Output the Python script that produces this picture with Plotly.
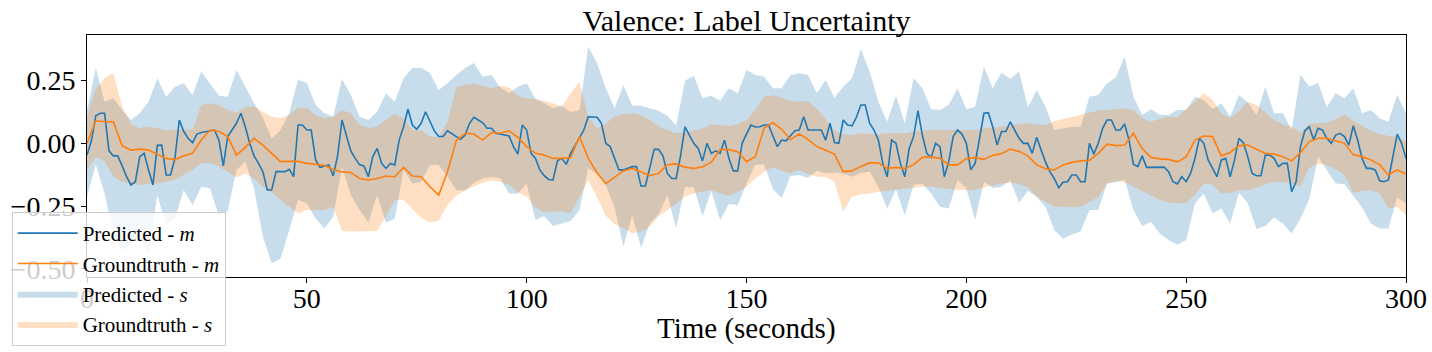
import plotly.graph_objects as go

# time grids (seconds)
time_1s = list(range(0, 301))
time_2s = list(range(0, 301, 2))

# Predicted mean (1 s resolution)
pred_m = [-0.047, 0.01, 0.11, 0.12, 0.12, -0.03, -0.05, -0.05, -0.09, -0.133,
          -0.166, -0.153, -0.053, -0.04, -0.106, -0.166, -0.008, -0.007, -0.126, -0.126,
          -0.06, 0.093, 0.047, 0.02, 0.003, 0.037, 0.043, 0.047, 0.052, 0.053,
          0.013, -0.09, 0.027, 0.053, 0.08, 0.12, 0.066, 0.0, -0.05, -0.08,
          -0.113, -0.186, -0.186, -0.113, -0.113, -0.113, -0.104, -0.133, 0.073, 0.073,
          0.053, 0.053, -0.066, -0.096, -0.09, -0.086, -0.13, -0.05, 0.093, 0.027,
          -0.03, -0.06, -0.086, -0.09, -0.133, -0.053, -0.02, -0.08, -0.1, -0.08,
          -0.086, 0.013, 0.066, 0.137, 0.073, 0.056, 0.08, 0.126, 0.086, 0.05,
          0.027, 0.027, 0.05, 0.04, 0.027, 0.016, 0.033, 0.08, 0.104, 0.093,
          0.082, 0.06, 0.06, 0.04, 0.035, 0.033, 0.029, -0.013, -0.043, 0.073,
          0.053, -0.04, -0.06, -0.106, -0.129, -0.144, -0.146, -0.07, -0.06, -0.084,
          -0.04, -0.01, 0.024, 0.053, 0.106, 0.104, 0.104, 0.08, 0.0, -0.013,
          -0.06, -0.106, -0.106, -0.1, -0.093, -0.093, -0.17, -0.17, -0.1, -0.024,
          -0.024, -0.05, -0.12, -0.14, -0.14, -0.05, 0.066, 0.03, 0.0, -0.02,
          -0.07, 0.0, -0.04, -0.03, -0.04, 0.013, -0.06, -0.11, -0.11, 0.0,
          0.04, 0.073, 0.065, 0.066, 0.073, 0.073, 0.03, -0.013, 0.013, 0.01,
          0.03, 0.05, 0.053, 0.106, 0.053, 0.053, 0.056, 0.053, 0.013, 0.08,
          0.003, 0.0, 0.093, 0.073, 0.07, 0.104, 0.153, 0.153, 0.08, 0.053,
          0.013, -0.08, -0.133, 0.013, 0.0, -0.08, -0.133, -0.02, 0.027, 0.13,
          0.033, -0.04, -0.057, 0.0, -0.013, -0.133, -0.073, 0.027, 0.053, 0.037,
          0.0, -0.106, -0.08, 0.024, 0.12, 0.122, 0.066, -0.007, 0.047, 0.047,
          0.086, 0.053, 0.02, 0.0, 0.0, -0.04, 0.024, -0.027, -0.075, -0.113,
          -0.14, -0.177, -0.155, -0.153, -0.126, -0.126, -0.153, -0.153, 0.0, -0.043,
          0.0, 0.06, 0.093, 0.093, 0.053, 0.053, 0.077, 0.013, -0.083, -0.093,
          -0.05, -0.096, -0.095, -0.095, -0.095, -0.095, -0.113, -0.153, -0.162, -0.133,
          -0.153, -0.12, -0.06, 0.02, 0.0, -0.066, -0.1, -0.133, -0.066, -0.06,
          -0.133, -0.066, 0.02, 0.003, -0.053, -0.12, -0.129, -0.129, -0.047, -0.047,
          -0.06, -0.093, -0.08, -0.08, -0.193, -0.153, -0.013, 0.05, 0.066, 0.013,
          0.06, 0.053, 0.02, 0.0, 0.033, 0.04, 0.027, -0.007, 0.07, 0.013,
          -0.06, -0.1, -0.1, -0.106, -0.149, -0.153, -0.146, -0.053, 0.037, 0.0,
          -0.06]

# Groundtruth mean (2 s resolution)
gt_m = [0.0, 0.09, 0.086, 0.086, -0.01, -0.027, -0.023, -0.027, -0.044, -0.06,
        -0.065, -0.05, -0.04, 0.013, 0.053, 0.047, 0.027, -0.047, -0.016, 0.02,
        -0.007, -0.04, -0.073, -0.072, -0.072, -0.08, -0.084, -0.088, -0.104, -0.114,
        -0.116, -0.14, -0.146, -0.14, -0.13, -0.133, -0.096, -0.13, -0.133, -0.173,
        -0.206, -0.112, 0.011, 0.04, 0.037, 0.013, 0.043, 0.04, 0.05, 0.024,
        -0.013, -0.04, -0.047, -0.06, -0.06, -0.057, 0.027, -0.06, -0.117, -0.161,
        -0.135, -0.11, -0.1, -0.115, -0.128, -0.12, -0.085, -0.082, -0.095, -0.1,
        -0.093, -0.075, -0.025, -0.025, -0.033, -0.073, -0.053, 0.061, 0.082, 0.056,
        0.015, 0.037, 0.016, -0.013, -0.027, -0.043, -0.113, -0.11, -0.092, -0.078,
        -0.078, -0.1, -0.096, -0.101, -0.085, -0.056, -0.054, -0.06, -0.086, -0.086,
        -0.061, -0.057, -0.064, -0.048, -0.041, -0.023, -0.032, -0.05, -0.086, -0.101,
        -0.106, -0.086, -0.076, -0.07, -0.068, -0.04, -0.003, -0.009, -0.007, 0.04,
        -0.021, -0.056, -0.062, -0.064, -0.074, -0.054, 0.013, 0.029, 0.027, -0.05,
        -0.037, -0.009, -0.007, -0.024, -0.04, -0.043, -0.053, -0.07, -0.037, 0.007,
        0.02, 0.02, 0.011, 0.0, -0.045, -0.053, -0.066, -0.085, -0.126, -0.106,
        -0.122]

pred_upper = [0.13, 0.30, 0.166, 0.18, 0.133, 0.093, 0.12, 0.166, 0.26, 0.186,
              0.226, 0.24, 0.193, 0.286, 0.237, 0.19, 0.186, 0.292, 0.226, 0.16,
              0.104, 0.019, 0.053, 0.12, 0.255, 0.24, 0.153, 0.12, 0.106, 0.257,
              0.193, 0.106, 0.093, 0.126, 0.2, 0.166, 0.26, 0.3, 0.3, 0.28,
              0.213, 0.24, 0.272, 0.3, 0.32, 0.266, 0.272, 0.223, 0.2, 0.226,
              0.24, 0.178, 0.16, 0.14, 0.15, 0.125, 0.133, 0.385, 0.32, 0.22,
              0.14, 0.233, 0.15, 0.15, 0.14, 0.13, 0.11, 0.07, 0.25, 0.27,
              0.18, 0.19, 0.17, 0.22, 0.2, 0.292, 0.272, 0.266, 0.22, 0.22,
              0.272, 0.279, 0.272, 0.2, 0.253, 0.182, 0.226, 0.26, 0.375, 0.286,
              0.166, 0.086, 0.19, 0.08, 0.26, 0.22, 0.136, 0.133, 0.153, 0.22,
              0.136, 0.146, 0.306, 0.22, 0.282, 0.257, 0.286, 0.144, 0.213, 0.146,
              0.053, 0.06, 0.066, 0.066, 0.186, 0.193, 0.239, 0.263, 0.346, 0.186,
              0.113, 0.136, 0.113, 0.113, 0.133, 0.133, 0.186, 0.173, 0.137, 0.16,
              0.106, 0.193, 0.163, 0.113, 0.226, 0.12, 0.12, 0.053, 0.272, 0.226,
              0.242, 0.144, 0.2, 0.18, 0.22, 0.12, 0.133, 0.1, 0.086, 0.193,
              0.12]

pred_lower = [-0.213, -0.084, -0.2, -0.36, -0.43, -0.40, -0.37, -0.44, -0.206, -0.326,
              -0.30, -0.186, -0.246, -0.173, -0.18, -0.29, -0.27, -0.106, -0.073, -0.18,
              -0.372, -0.478, -0.46, -0.346, -0.226, -0.24, -0.3, -0.34, -0.292, -0.093,
              -0.206, -0.266, -0.316, -0.206, -0.316, -0.3, -0.106, -0.16, -0.153, -0.086,
              -0.086, -0.133, -0.186, -0.189, -0.157, -0.14, -0.133, -0.14, -0.2, -0.2,
              -0.16, -0.306, -0.29, -0.33, -0.32, -0.31, -0.267, -0.1, -0.12, -0.167,
              -0.255, -0.412, -0.286, -0.416, -0.32, -0.284, -0.207, -0.338, -0.173, -0.175,
              -0.29, -0.19, -0.307, -0.242, -0.246, -0.16, -0.085, -0.084, -0.182, -0.219,
              -0.13, -0.126, -0.138, -0.109, -0.12, -0.116, -0.12, -0.133, -0.118, -0.113,
              -0.173, -0.26, -0.183, -0.287, -0.166, -0.16, -0.2, -0.253, -0.26, -0.145,
              -0.18, -0.306, -0.153, -0.178, -0.173, -0.148, -0.236, -0.189, -0.213, -0.253,
              -0.346, -0.38, -0.365, -0.352, -0.266, -0.266, -0.16, -0.155, -0.144, -0.266,
              -0.33, -0.314, -0.36, -0.385, -0.404, -0.385, -0.24, -0.2, -0.28, -0.26,
              -0.32, -0.197, -0.238, -0.342, -0.33, -0.296, -0.32, -0.36, -0.3, -0.223,
              -0.053, -0.106, -0.16, -0.163, -0.21, -0.255, -0.32, -0.34, -0.34, -0.215,
              -0.24]

gt_upper = [0.106, 0.218, 0.26, 0.28, 0.146, 0.077, 0.06, 0.066, 0.06, 0.053,
            0.054, 0.056, 0.053, 0.153, 0.16, 0.153, 0.133, 0.122, 0.145, 0.146,
            0.125, 0.106, 0.1, 0.113, 0.142, 0.14, 0.114, 0.1, 0.106, 0.131,
            0.122, 0.073, 0.061, 0.066, 0.093, 0.118, 0.1, 0.053, 0.052, 0.027,
            0.024, 0.086, 0.223, 0.234, 0.238, 0.229, 0.22, 0.229, 0.223, 0.189,
            0.18, 0.177, 0.169, 0.16, 0.146, 0.2, 0.245, 0.106, 0.06, 0.078,
            0.108, 0.117, 0.12, 0.112, 0.093, 0.069, 0.053, 0.04, 0.045, 0.053,
            0.058, 0.076, 0.073, 0.069, 0.076, 0.093, 0.133, 0.186, 0.193, 0.183,
            0.169, 0.166, 0.169, 0.138, 0.097, 0.052, 0.036, 0.033, 0.04, 0.037,
            0.037, 0.04, 0.04, 0.04, 0.046, 0.05, 0.053, 0.053, 0.053, 0.053,
            0.053, 0.053, 0.06, 0.063, 0.066, 0.073, 0.078, 0.08, 0.075, 0.073,
            0.088, 0.097, 0.105, 0.113, 0.122, 0.131, 0.133, 0.136, 0.14, 0.133,
            0.1, 0.086, 0.098, 0.106, 0.105, 0.137, 0.166, 0.2, 0.174, 0.118,
            0.102, 0.128, 0.166, 0.153, 0.122, 0.093, 0.075, 0.066, 0.043, 0.077,
            0.08, 0.082, 0.097, 0.116, 0.09, 0.069, 0.05, 0.037, 0.029, 0.027,
            0.007]

gt_lower = [-0.106, -0.053, -0.07, -0.134, -0.154, -0.16, -0.166, -0.16, -0.16, -0.153,
            -0.145, -0.125, -0.106, -0.08, -0.077, -0.092, -0.113, -0.136, -0.12, -0.14,
            -0.173, -0.195, -0.226, -0.253, -0.28, -0.266, -0.266, -0.266, -0.253, -0.35,
            -0.352, -0.352, -0.352, -0.35, -0.292, -0.226, -0.226, -0.263, -0.298, -0.316,
            -0.308, -0.246, -0.209, -0.187, -0.171, -0.157, -0.148, -0.153, -0.165, -0.195,
            -0.213, -0.256, -0.276, -0.272, -0.272, -0.279, -0.215, -0.146, -0.215, -0.288,
            -0.323, -0.339, -0.359, -0.352, -0.332, -0.292, -0.266, -0.239, -0.213, -0.2,
            -0.194, -0.186, -0.2, -0.209, -0.193, -0.173, -0.14, -0.113, -0.094, -0.109,
            -0.12, -0.106, -0.122, -0.133, -0.133, -0.153, -0.272, -0.213, -0.203, -0.2,
            -0.193, -0.189, -0.186, -0.181, -0.177, -0.173, -0.173, -0.177, -0.181, -0.186,
            -0.186, -0.186, -0.175, -0.167, -0.16, -0.156, -0.162, -0.175, -0.213, -0.233,
            -0.253, -0.253, -0.255, -0.253, -0.234, -0.215, -0.16, -0.149, -0.155, -0.173,
            -0.19, -0.209, -0.226, -0.235, -0.239, -0.239, -0.206, -0.16, -0.165, -0.2,
            -0.197, -0.187, -0.186, -0.177, -0.163, -0.153, -0.155, -0.161, -0.17, -0.098,
            -0.08, -0.086, -0.104, -0.126, -0.198, -0.189, -0.186, -0.2, -0.259, -0.253,
            -0.286]

x_ticks = [0, 50, 100, 150, 200, 250, 300]
y_ticks = [-0.5, -0.25, 0.0, 0.25]

BLUE = "#1f77b4"
ORANGE = "#ff7f0e"
FONT = "Liberation Serif"

fig = go.Figure()

fig.add_trace(go.Scatter(x=time_2s, y=pred_lower, mode="lines", line=dict(width=0),
                         showlegend=False, hoverinfo="skip"))
fig.add_trace(go.Scatter(x=time_2s, y=pred_upper, mode="lines", line=dict(width=0),
                         fill="tonexty", fillcolor="rgba(31,119,180,0.25)",
                         name="Predicted - <i>s</i>", legendrank=3))
fig.add_trace(go.Scatter(x=time_2s, y=gt_lower, mode="lines", line=dict(width=0),
                         showlegend=False, hoverinfo="skip"))
fig.add_trace(go.Scatter(x=time_2s, y=gt_upper, mode="lines", line=dict(width=0),
                         fill="tonexty", fillcolor="rgba(255,127,14,0.25)",
                         name="Groundtruth - <i>s</i>", legendrank=4))
fig.add_trace(go.Scatter(x=time_1s, y=pred_m, mode="lines", line=dict(color=BLUE, width=1.6),
                         name="Predicted - <i>m</i>", legendrank=1))
fig.add_trace(go.Scatter(x=time_2s, y=gt_m, mode="lines", line=dict(color=ORANGE, width=1.6),
                         name="Groundtruth - <i>m</i>", legendrank=2))

axis_common = dict(showline=True, mirror=True, linecolor="black", linewidth=1,
                   ticks="outside", ticklen=5, tickwidth=1, tickcolor="black",
                   showgrid=False, zeroline=False, automargin=False,
                   tickfont=dict(family=FONT, size=28, color="black"))

fig.update_layout(
    width=1432, height=352,
    margin=dict(l=87, r=26, t=35, b=75, autoexpand=False),
    paper_bgcolor="white", plot_bgcolor="white",
    title=dict(text="Valence: Label Uncertainty", x=0.5, xref="paper",
               y=1 - 20 / 352, yref="container", yanchor="middle", xanchor="center",
               font=dict(family=FONT, size=30, color="black")),
    xaxis=dict(range=[0, 300], tickvals=x_ticks, ticklabelstandoff=-9, **axis_common),
    yaxis=dict(range=[-0.533, 0.432], tickvals=y_ticks, tickformat=".2f", **axis_common),
    annotations=[dict(text="Time (seconds)", x=0.5, xref="paper", xanchor="center",
                      y=(277 - 328) / 242, yref="paper", yanchor="middle",
                      showarrow=False, font=dict(family=FONT, size=29, color="black"))],
    legend=dict(x=-0.0571, y=0.2686, xanchor="left", yanchor="top",
                bgcolor="rgba(255,255,255,0.8)", bordercolor="#cccccc", borderwidth=1,
                font=dict(family=FONT, size=21, color="black"),
                itemwidth=60, tracegroupgap=0, traceorder="normal"),
    showlegend=True,
)

fig.write_html("out.html")
